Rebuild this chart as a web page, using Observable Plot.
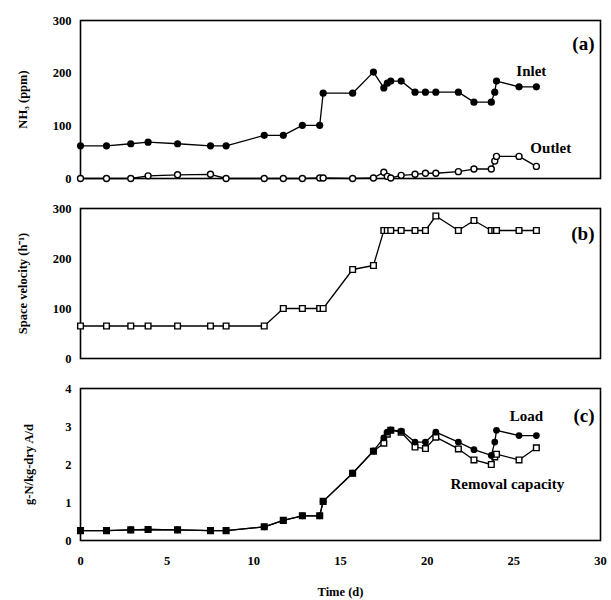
<!DOCTYPE html>
<html><head><meta charset="utf-8">
<script src="https://cdn.jsdelivr.net/npm/d3@7"></script>
<script src="https://cdn.jsdelivr.net/npm/@observablehq/plot@0.6"></script>
<style>body{margin:0;background:#fff} #chart{width:611px} svg{display:block}</style>
</head><body><div id="chart"></div>
<script>
// Time (d) of each sample
const times = [0,1.5,2.9,3.9,5.6,7.5,8.4,10.6,11.7,12.8,13.8,14.0,15.7,16.9,17.5,17.7,17.9,18.5,19.3,19.9,20.5,21.8,22.7,23.7,23.9,24.0,25.3,26.3];
// (a) NH3 concentration, ppm
const inlet  = [62,62,66,69,66,62,62,82,82,101,101,162,162,202,172,181,185,185,164,164,164,164,145,145,164,185,174,174];
const outlet = [0,0,0,5,7,8,0,0,0,0,1,1,0,1,12,4,1,6,8,10,10,13,18,18,33,42,42,23];
// (b) Space velocity, h^-1
const spaceVelocity = [65,65,65,65,65,65,65,65,100,100,100,100,178,186,256,256,256,256,256,256,285,256,276,256,256,256,256,256];
// (c) g-N/kg-dry A/d
const load    = [0.26,0.26,0.28,0.29,0.28,0.26,0.26,0.36,0.53,0.65,0.65,1.03,1.77,2.36,2.70,2.85,2.91,2.88,2.59,2.59,2.85,2.59,2.39,2.24,2.59,2.90,2.76,2.76];
const removal = [0.26,0.26,0.28,0.29,0.28,0.26,0.26,0.36,0.53,0.65,0.65,1.03,1.77,2.35,2.56,2.80,2.90,2.85,2.46,2.42,2.72,2.41,2.12,2.00,2.20,2.27,2.12,2.44];
const xTicks = [0,5,10,15,20,25,30];
const ticksA = [0,100,200,300];
const ticksB = [0,100,200,300];
const ticksC = [0,1,2,3,4];

const rows = (vals) => times.map((t, i) => ({t, v: vals[i]}));
const font = "'Liberation Serif', 'Times New Roman', serif";
const style = {fontFamily: font, fontSize: "12.5px", fontWeight: "bold", background: "white", color: "black", overflow: "visible"};
const fmt = d3.format("d");

function panel({height, marginTop, marginBottom, yDomain, yTicks, yLabel, labelOffset, xAxis, marks}) {
  return Plot.plot({
    width: 611, height, marginLeft: 80, marginRight: 11, marginTop, marginBottom,
    style,
    x: xAxis ? {domain: [0, 30], ticks: xTicks, tickFormat: fmt, tickSize: 0, tickPadding: 16, label: "Time (d)", labelArrow: false, labelAnchor: "center", labelOffset: 55}
             : {domain: [0, 30], axis: null},
    y: {domain: yDomain, ticks: yTicks, tickFormat: fmt, tickSize: 0, tickPadding: 9, label: yLabel, labelArrow: false, labelAnchor: "center", labelOffset},
    marks: [Plot.frame({stroke: "black", strokeWidth: 1.6}), ...marks]
  });
}

const lineOpt = {x: "t", y: "v", stroke: "black", strokeWidth: 1.3};
const tag = (txt, dy) => Plot.text([txt], {frameAnchor: "top-right", text: d => d, dx: -6, dy, lineAnchor: "middle", fontSize: 19, fontWeight: "bold"});

const chart = document.getElementById("chart");

chart.append(panel({
  height: 190, marginTop: 20, marginBottom: 12,
  yDomain: [0, 300], yTicks: ticksA, yLabel: "NH₃ (ppm)", labelOffset: 62,
  marks: [
    Plot.line(rows(inlet), lineOpt),
    Plot.dot(rows(inlet), {x: "t", y: "v", r: 3.6, fill: "black"}),
    Plot.line(rows(outlet), lineOpt),
    Plot.dot(rows(outlet), {x: "t", y: "v", r: 3, fill: "white", stroke: "black", strokeWidth: 1.4}),
    Plot.text(rows(inlet), Plot.selectLast({x: "t", y: "v", text: () => "Inlet", dx: -5, dy: -16, fontSize: 15, fontWeight: "bold"})),
    Plot.text(rows(outlet), Plot.selectLast({x: "t", y: "v", text: () => "Outlet", textAnchor: "start", dx: -6, dy: -18, fontSize: 15, fontWeight: "bold"})),
    tag("(a)", 23)
  ]
}));

chart.append(panel({
  height: 180, marginTop: 18, marginBottom: 12,
  yDomain: [0, 300], yTicks: ticksB, yLabel: "Space velocity (h⁻¹)", labelOffset: 62,
  marks: [
    Plot.line(rows(spaceVelocity), lineOpt),
    Plot.dot(rows(spaceVelocity), {x: "t", y: "v", r: 3.2, symbol: "square", fill: "white", stroke: "black", strokeWidth: 1.4}),
    tag("(b)", 25)
  ]
}));

chart.append(panel({
  height: 230, marginTop: 18, marginBottom: 60,
  yDomain: [0, 4], yTicks: ticksC, yLabel: "g-N/kg-dry A/d", labelOffset: 56, xAxis: true,
  marks: [
    Plot.line(rows(removal), lineOpt),
    Plot.dot(rows(removal), {x: "t", y: "v", r: 3.2, symbol: "square", fill: "white", stroke: "black", strokeWidth: 1.4}),
    Plot.line(rows(load), lineOpt),
    Plot.dot(rows(load), {x: "t", y: "v", r: 3.4, fill: "black"}),
    Plot.text(rows(load), Plot.selectLast({x: "t", y: "v", text: () => "Load", dx: -10, dy: -19, fontSize: 15, fontWeight: "bold"})),
    Plot.text(rows(removal), Plot.selectLast({x: "t", y: "v", text: () => "Removal capacity", dx: -29, dy: 36, fontSize: 15, fontWeight: "bold"})),
    tag("(c)", 27)
  ]
}));
</script></body></html>
